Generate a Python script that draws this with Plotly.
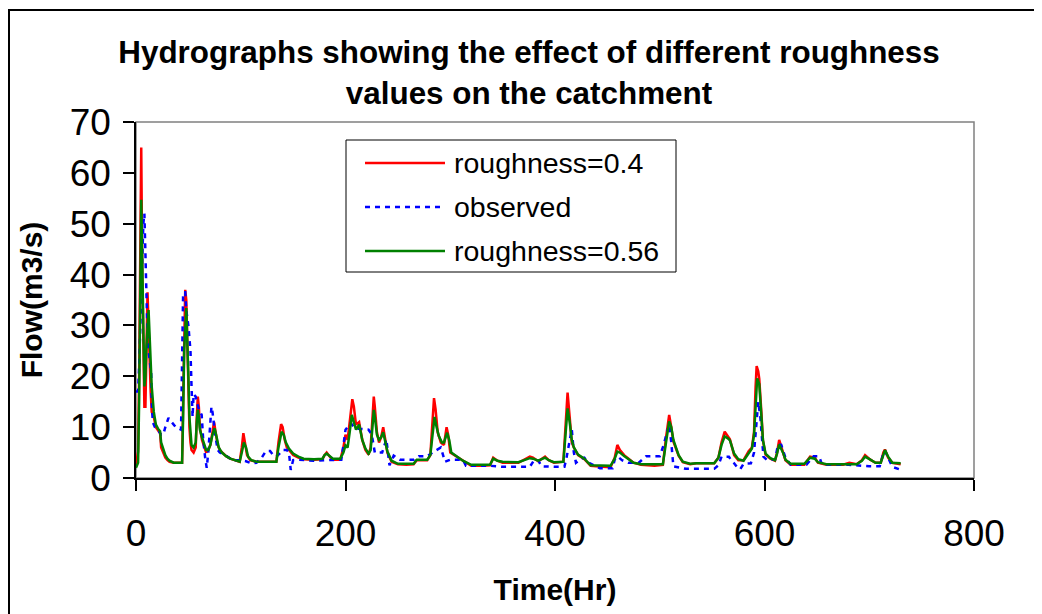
import plotly.graph_objects as go

# ---------------- data ----------------
t_r04 = [0, 1, 2, 3, 4, 5, 6, 7, 8, 9, 10, 11, 12, 13, 14, 15, 17, 19, 21, 23, 24, 26, 28, 30, 32, 36, 40, 44,
         45, 46, 47, 48, 49, 50, 51, 52, 53, 55, 57, 58, 59, 60, 61, 63, 65, 67, 69, 71, 73, 74.5, 76, 78, 80, 83,
         86, 90, 95, 99, 101, 102.5, 104, 106, 109, 115, 125, 134, 136, 138.5, 140, 142, 144, 146, 150, 155, 160,
         170, 178, 180, 182, 185, 188, 195, 198, 200, 202, 204, 206.5, 208, 210, 213, 216, 219, 222, 224, 226, 227,
         228, 230, 232, 234, 236, 238, 240, 244, 250, 258, 265, 268, 278, 281, 283, 284.5, 286, 288, 291, 294,
         296.5, 298, 300, 306, 312, 320, 330, 338, 341, 345, 350, 357, 365, 376, 379, 384, 390.5, 394, 399, 408,
         410, 412, 414, 416, 418, 422, 428, 434, 445, 453, 457, 459.5, 462, 466, 475, 482, 495, 503, 506, 509, 511,
         513, 518, 522, 529, 535, 545, 552, 556, 559, 562, 564, 567, 571, 575, 580, 585, 588, 590, 591.5, 592.5,
         594, 595, 597, 598.5, 601, 605.6, 610, 612, 614, 616, 618, 620, 625, 638, 643.5, 648, 651, 659, 675, 681,
         688, 693, 696, 701, 706, 711, 713.5, 715, 718, 722, 730]
q_r04 = [2.5, 4.5, 5.2, 20, 45, 65, 40, 20, 14, 14, 28, 36.5, 30, 22, 17, 13, 12, 10, 9.5, 8.8, 6, 5, 4, 3.5, 3.2, 3, 3, 3,
         15, 30, 37, 35, 25, 15, 10, 7, 5.5, 5, 6, 12, 16, 14, 10, 7.5, 6, 5, 5.5, 6.5, 9, 11, 9, 6.5, 5.5, 4.8,
         4.3, 3.8, 3.4, 3.2, 6, 8.8, 7, 4.5, 3.5, 3.2, 3.2, 3.2, 7, 10.6, 10, 7.5, 6, 5.5, 4.5, 4, 3.7,
         3.6, 3.7, 4.5, 5, 4.2, 3.6, 3.6, 6, 8.5, 7.5, 11, 15.5, 14, 10.5, 11, 7.5, 5.5, 4.6, 6, 13, 16,
         14, 9, 7, 8, 10, 7, 5, 3.2, 2.7, 2.6, 2.7, 3.5, 3.5, 4.5, 12, 15.7, 13.5, 9, 7, 6.5,
         10, 8.5, 5, 4.2, 3.3, 2.4, 2.4, 2.5, 4, 3.4, 3, 3, 3, 4.2, 4, 3.3, 4.2, 3.5, 3, 3.2,
         10, 16.8, 12, 7, 6, 4.5, 3.7, 2.4, 2.2, 2.1, 4, 6.5, 5.5, 4.5, 3.0, 2.6, 2.4, 2.6, 8, 12.4, 10,
         7.2, 4.4, 3.1, 2.7, 2.9, 2.9, 2.9, 4, 7, 9.1, 8.4, 7.6, 4.5, 3.5, 3.5, 5.3, 6, 9, 18, 22,
         21, 19.5, 13, 7.4, 4.6, 3.8, 3.4, 5, 7.5, 6, 5, 3.5, 2.6, 2.6, 4.2, 4, 3, 2.6, 2.6, 3,
         2.7, 3.5, 4.5, 3.6, 3.0, 3.0, 5, 5.6, 4, 3, 2.7]

t_obs = [0, 2, 3, 4, 5, 6, 7, 8, 9, 10, 11, 12, 13, 14.5, 15, 16, 18, 21, 24, 26, 28, 31, 34, 38, 43, 44, 45, 47, 48,
         50, 51, 52, 53, 54, 55, 57, 58, 60, 62.7, 64, 66, 67.5, 69, 71, 72, 73, 74, 76, 78, 80, 85, 90, 95, 100,
         105, 110, 115, 120, 124, 128, 131, 134, 137, 140, 144, 146, 147.7, 150, 155, 160, 170, 180, 190, 196, 198,
         200, 205, 208, 212, 218, 222, 225, 228, 235, 239, 242, 246, 252, 265, 270, 278, 283, 287, 291, 295, 300,
         312, 315, 338, 345, 350, 376, 380, 384, 387, 400, 409, 411, 414, 416, 418, 420, 425, 428, 432, 443, 455,
         457, 460, 464, 470, 480, 487, 500, 503.7, 507, 509, 511, 513, 525, 541, 552, 556, 559, 566, 568, 571, 575,
         577, 580, 587, 590, 592, 594, 596, 597, 599, 602, 610, 613, 616, 620, 625, 640, 647, 652, 655, 680, 700,
         710, 713, 715, 718, 722, 729, 730]
q_obs = [17, 17, 22, 30, 38, 45, 50, 52, 44, 35, 28, 25, 23, 20.6, 15, 11, 10, 9.4, 8.5, 8.5, 10, 11.8, 11, 10, 9.5, 20, 36.5, 36.5, 33,
         30, 28, 25, 18, 12, 16.5, 16, 15, 13.5, 12.4, 8, 4, 2, 5, 10, 14, 13, 11, 8, 5.5, 5, 4.5, 3.8, 3.5, 3.5,
         3.3, 2.9, 3, 4, 5.3, 5.3, 4.5, 4.2, 4.8, 5.5, 5.5, 5, 1.6, 3.5, 3.6, 3.5, 3.4, 3.5, 3.5, 3.6, 6.4,
         9.5, 10.8, 10, 9.7, 9.6, 9.5, 8.6, 5, 5, 7.6, 2.5, 4.4, 3.6, 3.6, 4.3, 4.3, 5, 5.5, 6, 3.2, 3.6,
         3.6, 2.4, 2.4, 2.2, 2.2, 2.2, 3.5, 3.5, 2.3, 2.2, 2.2, 4, 7, 9.6, 5, 3, 3.8, 4, 3, 1.9, 1.9,
         3.6, 4.2, 3.5, 3, 3, 4.3, 4.3, 6.5, 9, 10.5, 7, 2.3, 1.8, 1.8, 1.8, 2.5, 4.2, 4.2, 3.5, 2.9, 1.8,
         1.8, 2.8, 2.9, 5, 10, 15, 12, 9.6, 4.2, 3.6, 3.6, 6.6, 6.5, 4, 2.6, 2.6, 4.3, 4.3, 2.6, 2.6, 2.3,
         2.3, 4.5, 5.4, 4, 2.2, 1.7, 1.7]

t_r056 = [0, 1, 2, 3, 4, 5, 6, 7, 8, 9, 10, 12, 13, 14, 15, 17, 19, 21, 23, 24, 26, 28, 30, 32, 36, 44, 45, 46, 48, 49,
          50, 51, 52, 53, 55, 57, 58, 59, 60, 61, 63, 65, 67, 69, 71, 73, 75, 77, 79, 82, 86, 90, 95, 99, 101, 103,
          105, 107, 110, 115, 134, 136, 139, 141, 143, 146, 150, 155, 160, 170, 178, 180, 182, 185, 188, 195, 198,
          200, 202, 204, 206, 208, 210, 213, 216, 219, 222, 224, 226, 227, 228, 230, 232, 234, 236, 238, 240, 244,
          250, 258, 265, 268, 278, 281, 283, 285, 287, 289, 292, 294, 297, 299, 301, 306, 312, 320, 338, 341, 345,
          350, 357, 365, 376, 379, 384, 390.5, 394, 399, 408, 410, 412, 414, 416, 418, 422, 428, 434, 453, 457,
          459.5, 462, 466, 475, 482, 503, 506, 509, 511, 513, 518, 522, 529, 535, 552, 556, 559, 562, 565, 567, 571,
          575, 580, 585, 588, 590, 591.5, 593, 595, 597, 598.5, 601, 605.6, 610, 612, 614, 616, 618, 620, 625, 638,
          643.5, 648, 651, 659, 688, 693, 696, 701, 706, 711, 713.5, 715, 718, 722, 730]
q_r056 = [2, 2.6, 3, 15, 35, 54.7, 42, 25, 18, 20, 26, 33, 28, 24, 18, 13, 10.5, 9.7, 9.2, 7, 5.5, 4.5, 3.8, 3.4, 3, 3, 12, 25, 33.4, 28,
          20, 12, 8, 6.5, 6, 7, 11, 13.4, 12, 9.5, 8, 6.5, 5.5, 5.5, 6.5, 8.5, 9.8, 8, 6, 5, 4.3, 3.8, 3.4, 3.2, 5, 7,
          6, 4.2, 3.5, 3.2, 3.2, 6, 9.1, 8.5, 7, 5.8, 4.8, 4.2, 3.8, 3.7, 3.8, 4.5, 4.8, 4.3, 3.8, 3.8, 5,
          6.4, 6, 9, 12.4, 11, 9.5, 10.5, 7.5, 5.8, 4.8, 5.5, 11, 13.4, 12, 8.5, 7.5, 8, 9, 7, 5.2, 3.4,
          2.8, 2.8, 2.8, 3.6, 3.6, 4.5, 9, 12, 10, 8.3, 7, 7, 8.9, 7.5, 5, 4.2, 3.4, 2.6, 2.6, 3.8, 3.4,
          3.2, 3.2, 3.1, 3.9, 3.8, 3.4, 4, 3.5, 3.1, 3.2, 8, 13.7, 11, 7.5, 6, 4.6, 3.8, 2.5, 2.4, 3.8,
          5.2, 5, 4.3, 3.0, 2.7, 2.7, 7, 11.1, 10, 7.5, 4.5, 3.2, 2.8, 2.9, 2.9, 4, 6.5, 8.2, 7.8, 7.4, 4.8,
          3.7, 3.4, 5, 5.8, 8.5, 15, 19.6, 18.5, 12.5, 7.5, 4.8, 3.9, 3.5, 4.8, 6.6, 5.8, 4.8, 3.6, 2.8, 2.8,
          4, 3.8, 3.1, 2.7, 2.7, 3.4, 4.2, 3.6, 3.0, 3.0, 4.8, 5.5, 4.2, 3, 2.9]

series_names = ["roughness=0.4", "observed", "roughness=0.56"]
series_colors = ["#FF0000", "#0000FF", "#008000"]
series_dash = ["solid", "5px,5px", "solid"]

x_ticks = [0, 200, 400, 600, 800]
y_ticks = [0, 10, 20, 30, 40, 50, 60, 70]

title_text = "Hydrographs showing the effect of different roughness<br>values on the catchment"
x_title = "Time(Hr)"
y_title = "Flow(m3/s)"

FONT = "Liberation Sans, Arial, sans-serif"

# ---------------- figure ----------------
fig = go.Figure()
data_sets = [(t_r04, q_r04), (t_obs, q_obs), (t_r056, q_r056)]
for (tx, qy), name, col, dash in zip(data_sets, series_names, series_colors, series_dash):
    fig.add_trace(go.Scatter(x=tx, y=qy, mode="lines", name=name,
                             line=dict(color=col, width=2.5, dash=dash), showlegend=False))

OFF = 8  # page body margin
W, H = 1042, 614
# target plot area in page pixels: x 136..974, y 122..478
L = 136 - OFF
T = 122 - OFF
R = W - (974 - OFF)
B = H - (478 - OFF)
pw, ph = W - L - R, H - T - B

def px2paper_x(px):
    return (px - OFF - L) / pw

def px2paper_y(py):
    return (H - B - (py - OFF)) / ph

shapes = []
# plot-area frame (grey top/right)
shapes.append(dict(type="rect", xref="paper", yref="paper", x0=0, x1=1, y0=0, y1=1,
                   line=dict(color="#808080", width=1.5), layer="below"))
# outer chart border
shapes.append(dict(type="rect", xref="paper", yref="paper",
                   x0=px2paper_x(9), x1=px2paper_x(1070), y0=px2paper_y(640), y1=px2paper_y(10),
                   line=dict(color="black", width=2), layer="below"))
# legend box
shapes.append(dict(type="rect", xref="paper", yref="paper",
                   x0=px2paper_x(346), x1=px2paper_x(676), y0=px2paper_y(272), y1=px2paper_y(140),
                   line=dict(color="black", width=1), fillcolor="white", layer="above"))
annotations = []
leg_y = [163, 207, 251]
for yy, name, col, dash in zip(leg_y, series_names, series_colors, series_dash):
    shapes.append(dict(type="line", xref="paper", yref="paper",
                       x0=px2paper_x(365), x1=px2paper_x(445), y0=px2paper_y(yy), y1=px2paper_y(yy),
                       line=dict(color=col, width=2.5, dash=dash), layer="above"))
    annotations.append(dict(xref="paper", yref="paper", x=px2paper_x(452), y=px2paper_y(yy),
                            xanchor="left", yanchor="middle", text=name, showarrow=False,
                            font=dict(family=FONT, size=28.5, color="black")))

fig.update_layout(
    width=W, height=H,
    margin=dict(l=L, r=R, t=T, b=B),
    paper_bgcolor="white", plot_bgcolor="white",
    font=dict(family=FONT, color="black"),
    title=dict(text=title_text, x=(529 - OFF) / W, xanchor="center", xref="container",
               y=1 - (63 - OFF) / H, yanchor="middle", yref="container",
               font=dict(family=FONT, size=31.4, color="black", weight="bold")),
    shapes=shapes,
    annotations=annotations,
    showlegend=False,
)
fig.update_xaxes(range=[0, 800], tickvals=x_ticks, ticks="outside", ticklen=11, tickwidth=1.5,
                 tickcolor="black", showline=True, linecolor="black", linewidth=1.5,
                 showgrid=False, zeroline=False, tickfont=dict(family=FONT, size=37),
                 ticklabelstandoff=11, automargin=False,
                 title=dict(text=x_title, font=dict(family=FONT, size=30, weight="bold"), standoff=26))
fig.update_yaxes(range=[0, 70], tickvals=y_ticks, ticks="outside", ticklen=11, tickwidth=1.5,
                 tickcolor="black", showline=True, linecolor="black", linewidth=1.5,
                 showgrid=False, zeroline=False, tickfont=dict(family=FONT, size=37),
                 ticklabelstandoff=5, automargin=False,
                 title=dict(text=y_title, font=dict(family=FONT, size=30, weight="bold"), standoff=18))

fig.write_html("out.html")
